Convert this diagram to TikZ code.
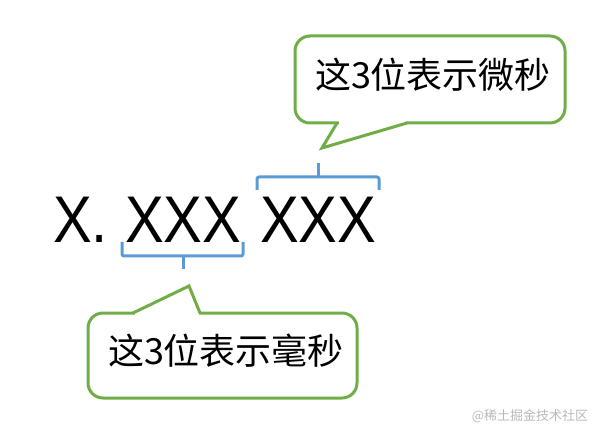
\documentclass[tikz,border=0pt]{standalone}
\usepackage{fontspec}
\setmainfont{Liberation Sans}
\newfontfamily\cjk{Noto Sans CJK SC}
\definecolor{cgreen}{RGB}{112,173,71}
\definecolor{cblue}{RGB}{91,155,213}
\definecolor{wmgray}{RGB}{185,185,185}
\begin{document}
\begin{tikzpicture}[x=1pt,y=-1pt,
  big/.style={inner sep=0pt, anchor=base west, font=\fontsize{66}{70}\selectfont, xscale=0.88, transform shape},
  cjktext/.style={inner sep=0pt, font=\cjk\fontsize{36}{40}\selectfont},
  callout/.style={draw=cgreen, line width=3pt, line join=miter},
  bracket/.style={draw=cblue, line width=3pt, line join=round, rounded corners=2pt}]
\useasboundingbox (0,0) rectangle (599,435);
% main text
\node[big] (x0) at (53,243) {X.};
\node[big] (ms) at (125,243) {XXX};
\node[big] (us) at (260,243) {XXX};
% top brace (microseconds)
\coordinate (tbL) at (257,190);
\coordinate (tbR) at (379,190);
\coordinate (tbM) at (318,177);
\coordinate (tbT) at (318,163);
\draw[bracket] (tbL) -- (257,177) -- (379,177) -- (tbR);
\draw[bracket] (tbM) -- (tbT);
% bottom brace (milliseconds)
\coordinate (bbL) at (122,242);
\coordinate (bbR) at (243,242);
\coordinate (bbM) at (183,256);
\coordinate (bbB) at (183,269);
\draw[bracket] (bbL) -- (122,256) -- (243,256) -- (bbR);
\draw[bracket] (bbM) -- (bbB);
% top callout
\coordinate (tip1) at (322,148);
\coordinate (t1a) at (337,123);
\coordinate (t1b) at (407,123);
\draw[callout, rounded corners=15pt] (295,36) rectangle (565,123);
\fill[white] (338.5,119) rectangle (405.5,126);
\draw[callout] (t1a) -- (tip1) -- (t1b);
\node[cjktext] (usText) at (433,75) {这3位表示微秒};
% bottom callout
\coordinate (tip2) at (189,286);
\coordinate (t2a) at (133,313);
\coordinate (t2b) at (200,313);
\draw[callout, rounded corners=15pt] (88,313) rectangle (357,398);
\fill[white] (134.5,310) rectangle (198.5,317);
\draw[callout] (t2a) -- (tip2) -- (t2b);
\node[cjktext] (msText) at (226,351) {这3位表示毫秒};
% watermark
\node[inner sep=0pt, text=wmgray, font=\cjk\fontsize{13}{15}\selectfont] (wm) at (530,416) {@稀土掘金技术社区};
\end{tikzpicture}
\end{document}
